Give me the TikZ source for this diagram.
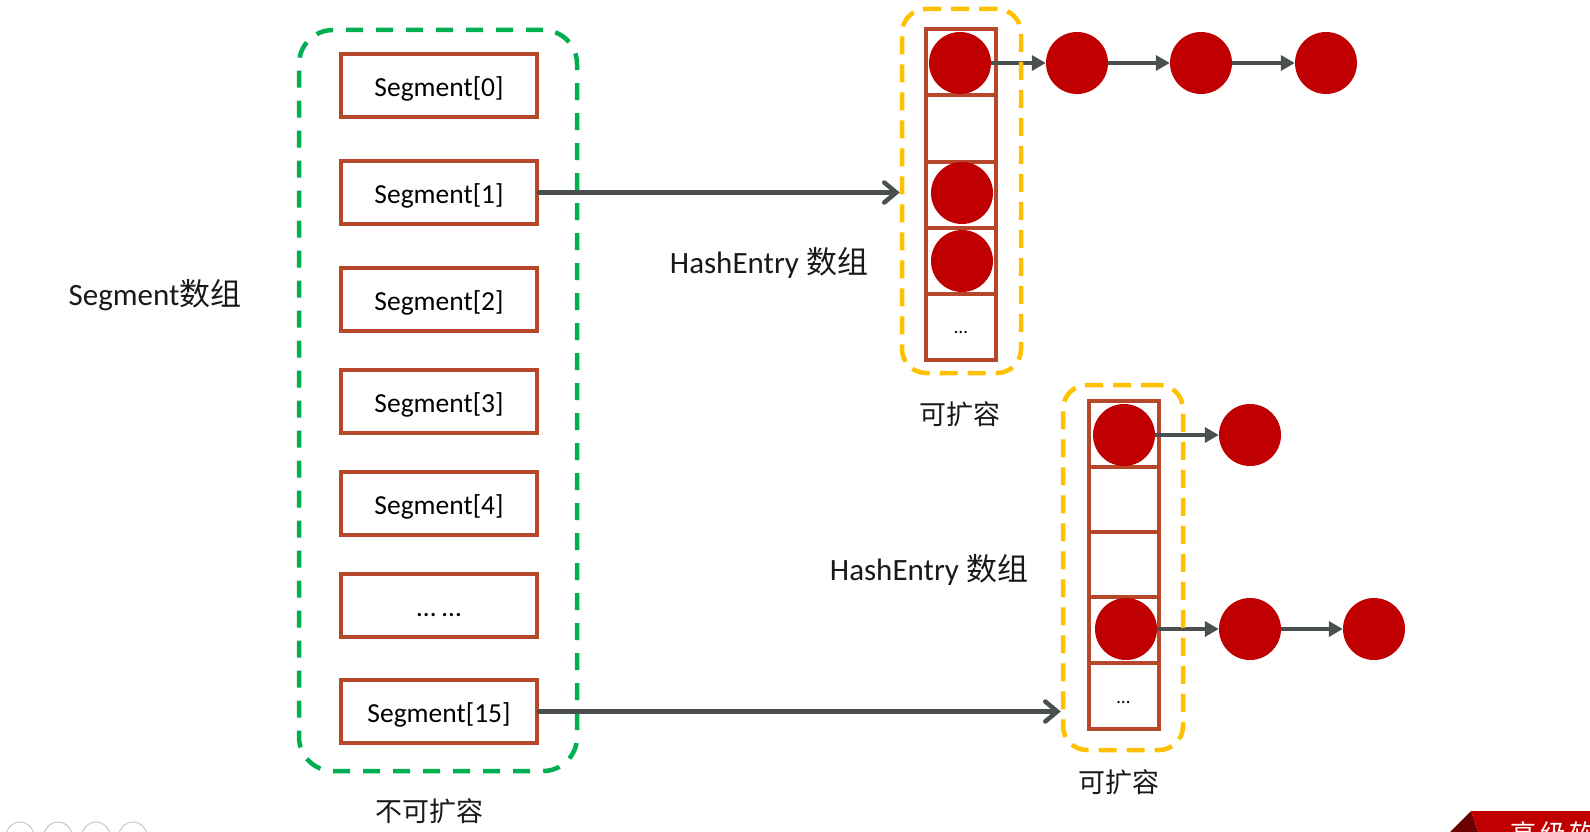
\documentclass[tikz,border=0pt]{standalone}
\usepackage{fontspec}
\setmainfont{Carlito}
\newfontfamily\cjk{Noto Sans CJK SC}
\newfontfamily\cjkwide{Noto Sans CJK SC}[LetterSpace=15]
\usetikzlibrary{arrows.meta}
\definecolor{segred}{RGB}{183,71,42}
\definecolor{ballred}{RGB}{192,0,0}
\definecolor{dgreen}{RGB}{0,176,80}
\definecolor{dyellow}{RGB}{255,192,0}
\definecolor{agray}{RGB}{74,80,80}
\begin{document}
\begin{tikzpicture}[x=1pt,y=-1pt,
  seg/.style={draw=segred, line width=4pt, minimum width=196pt, minimum height=63pt, inner sep=0pt, text height=23pt, text depth=1pt, font=\fontsize{27.5}{32}\selectfont},
  cell/.style={draw=segred, line width=4pt, minimum width=70pt, minimum height=66pt, inner sep=0pt},
  ball/.style={circle, fill=ballred, minimum size=62pt, inner sep=0pt},
  greenbox/.style={draw=dgreen, line width=4.5pt, rounded corners=34pt, dash pattern=on 17pt off 13pt, minimum width=278pt, minimum height=741pt},
  yellowbox/.style={draw=dyellow, line width=4.5pt, rounded corners=24pt, dash pattern=on 18pt off 10pt},
  segarrow/.style={draw=agray, line width=4.5pt, line cap=round, -{Straight Barb[length=12pt,width=20pt,line cap=round]}},
  chain/.style={draw=agray, line width=4.5pt, -{Triangle[length=14pt,width=15pt]}},
  lbl/.style={font=\fontsize{31}{36}\selectfont, text=black!90},
  small/.style={font=\cjk\fontsize{27}{32}\selectfont, text=black!90},
  dots/.style={font=\fontsize{19}{22}\selectfont, text height=14pt, text depth=0pt}
]
\useasboundingbox (0,0) rectangle (1590,832);
\fill[white] (0,0) rectangle (1590,832);

% Segment array
\node[greenbox] (grp) at (438,400.5) {};
\node[seg] (s0) at (439,85.5) {Segment[0]};
\node[seg] (s1) at (439,192.5) {Segment[1]};
\node[seg] (s2) at (439,299.5) {Segment[2]};
\node[seg] (s3) at (439,401) {Segment[3]};
\node[seg] (s4) at (439,503) {Segment[4]};
\node[seg] (s5) at (439,605) {… …};
\node[seg] (s15) at (439,711.5) {Segment[15]};

\node[lbl] (segl) at (155,295) {Segment{\cjk 数组}};
\node[small] (nx) at (429,811) {不可扩容};

% top HashEntry array
\foreach \i/\y in {1/62.5,2/128.5,3/194.5,4/260.5}{\node[cell] (a\i) at (961,\y) {};}
\node[cell, dots] (a5) at (961,326.5) {…};
\node[ball] (ta) at (960,63) {};
\node[ball] (tb) at (1077,63) {};
\node[ball] (tc) at (1201,63) {};
\node[ball] (td) at (1326,63) {};
\node[ball] (te) at (962,193) {};
\node[ball] (tf) at (962,261) {};
\draw[chain] (ta) -- (tb);
\draw[chain] (tb) -- (tc);
\draw[chain] (tc) -- (td);
\node[yellowbox, minimum width=119pt, minimum height=364pt] (y1) at (961.5,191) {};
\node[lbl] (h1) at (769,263) {HashEntry {\cjk 数组}};
\node[small] (k1) at (960,414) {可扩容};

% bottom HashEntry array
\foreach \i/\y in {1/434,2/499.5,3/564.5,4/630}{\node[cell, minimum height=65.5pt] (b\i) at (1123.5,\y) {};}
\node[cell, dots, minimum height=65.5pt] (b5) at (1123.5,696) {…};
\node[ball] (ba) at (1124,435) {};
\node[ball] (bb) at (1250,435) {};
\node[ball] (bc) at (1126,629) {};
\node[ball] (bd) at (1250,629) {};
\node[ball] (be) at (1374,629) {};
\draw[chain] (ba) -- (bb);
\draw[chain] (bc) -- (bd);
\draw[chain] (bd) -- (be);
\node[yellowbox, minimum width=120pt, minimum height=365pt] (y2) at (1123,567.5) {};
\node[lbl] (h2) at (929,570) {HashEntry {\cjk 数组}};
\node[small] (k2) at (1119,782) {可扩容};

% segment -> array arrows
\draw[segarrow] (s1.east) -- (s1.east -| y1.west);
\draw[segarrow] (s15.east) -- (s15.east -| y2.west);

% slide decorations
\foreach \x in {20,58,96,133}{\draw[black!22, line width=1pt] (\x,836) circle[radius=14];}
\begin{scope}
\clip (0,0) rectangle (1590,832);
\fill[ballred!55!black] (1450,832) -- (1471,811) -- (1478,832) -- cycle;
\fill[ballred] (1471,811) -- (1590,811) -- (1590,832) -- (1478,832) -- cycle;
\node[anchor=west, text=white, font=\cjkwide\fontsize{26}{30}\selectfont, inner sep=0pt] (ban) at (1510,834) {高级软件};
\end{scope}
\end{tikzpicture}
\end{document}
